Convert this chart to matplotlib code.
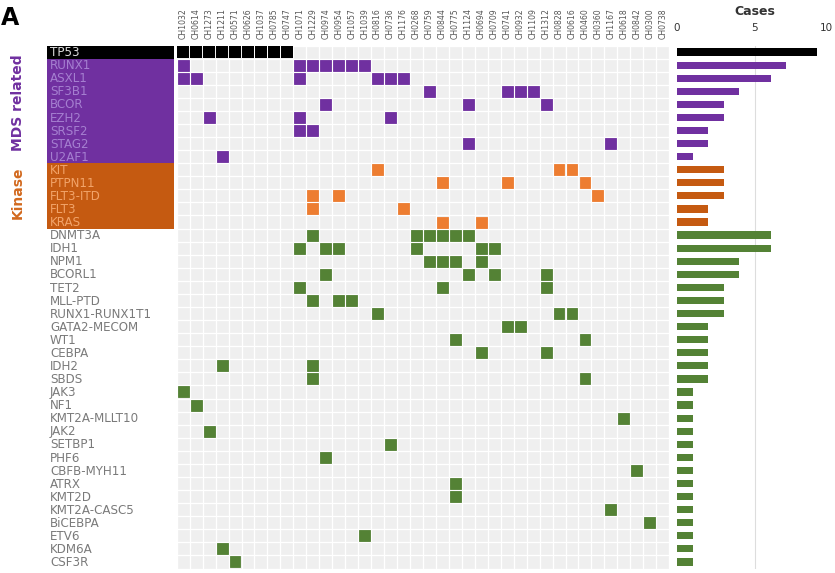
import matplotlib
matplotlib.use("Agg")
import matplotlib.pyplot as plt
from matplotlib.patches import Rectangle

# ---- data -------------------------------------------------------------
samples = ["CH1032", "CH0614", "CH1273", "CH1211", "CH0571", "CH0626", "CH1037",
           "CH0785", "CH0747", "CH1071", "CH1229", "CH0974", "CH0954", "CH1057",
           "CH1039", "CH0816", "CH0736", "CH1176", "CH0268", "CH0759", "CH0844",
           "CH0775", "CH1124", "CH0694", "CH0709", "CH0741", "CH0932", "CH1109",
           "CH1312", "CH0828", "CH0616", "CH0460", "CH0360", "CH1167", "CH0618",
           "CH0842", "CH0300", "CH0738"]

tp53_genes = ["TP53"]
mds_genes = ["RUNX1", "ASXL1", "SF3B1", "BCOR", "EZH2", "SRSF2", "STAG2", "U2AF1"]
kinase_genes = ["KIT", "PTPN11", "FLT3-ITD", "FLT3", "KRAS"]
other_genes = ["DNMT3A", "IDH1", "NPM1", "BCORL1", "TET2", "MLL-PTD",
               "RUNX1-RUNX1T1", "GATA2-MECOM", "WT1", "CEBPA", "IDH2", "SBDS",
               "JAK3", "NF1", "KMT2A-MLLT10", "JAK2", "SETBP1", "PHF6",
               "CBFB-MYH11", "ATRX", "KMT2D", "KMT2A-CASC5", "BiCEBPA", "ETV6",
               "KDM6A", "CSF3R"]

# mutated samples per gene
mutations = {
    "TP53": ["CH1032", "CH0614", "CH1273", "CH1211", "CH0571", "CH0626", "CH1037", "CH0785", "CH0747"],
    "RUNX1": ["CH1032", "CH1071", "CH1229", "CH0974", "CH0954", "CH1057", "CH1039"],
    "ASXL1": ["CH1032", "CH0614", "CH1071", "CH0816", "CH0736", "CH1176"],
    "SF3B1": ["CH0759", "CH0741", "CH0932", "CH1109"],
    "BCOR": ["CH0974", "CH1124", "CH1312"],
    "EZH2": ["CH1273", "CH1071", "CH0736"],
    "SRSF2": ["CH1071", "CH1229"],
    "STAG2": ["CH1124", "CH1167"],
    "U2AF1": ["CH1211"],
    "KIT": ["CH0816", "CH0828", "CH0616"],
    "PTPN11": ["CH0844", "CH0741", "CH0460"],
    "FLT3-ITD": ["CH1229", "CH0954", "CH0360"],
    "FLT3": ["CH1229", "CH1176"],
    "KRAS": ["CH0844", "CH0694"],
    "DNMT3A": ["CH1229", "CH0268", "CH0759", "CH0844", "CH0775", "CH1124"],
    "IDH1": ["CH1071", "CH0974", "CH0954", "CH0268", "CH0694", "CH0709"],
    "NPM1": ["CH0759", "CH0844", "CH0775", "CH0694"],
    "BCORL1": ["CH0974", "CH1124", "CH0709", "CH1312"],
    "TET2": ["CH1071", "CH0844", "CH1312"],
    "MLL-PTD": ["CH1229", "CH0954", "CH1057"],
    "RUNX1-RUNX1T1": ["CH0816", "CH0828", "CH0616"],
    "GATA2-MECOM": ["CH0741", "CH0932"],
    "WT1": ["CH0775", "CH0460"],
    "CEBPA": ["CH0694", "CH1312"],
    "IDH2": ["CH1211", "CH1229"],
    "SBDS": ["CH1229", "CH0460"],
    "JAK3": ["CH1032"],
    "NF1": ["CH0614"],
    "KMT2A-MLLT10": ["CH0618"],
    "JAK2": ["CH1273"],
    "SETBP1": ["CH0736"],
    "PHF6": ["CH0974"],
    "CBFB-MYH11": ["CH0842"],
    "ATRX": ["CH0775"],
    "KMT2D": ["CH0775"],
    "KMT2A-CASC5": ["CH1167"],
    "BiCEBPA": ["CH0300"],
    "ETV6": ["CH1039"],
    "KDM6A": ["CH1211"],
    "CSF3R": ["CH0571"],
}

# ---- styling ----------------------------------------------------------
groups = [(tp53_genes, "#000000", "#000000", "#000000", "#dcdcdc"),
          (mds_genes, "#7030A0", "#7030A0", "#7030A0", "#a57fd0"),
          (kinase_genes, "#ED7D31", "#C55A11", "#C55A11", "#f2a46a"),
          (other_genes, "#548235", "#548235", None, "#7a7a7a")]

genes, cell_col, bar_col, box_col, txt_col = [], [], [], [], []
for glist, cc, bc, boxc, tc in groups:
    for g in glist:
        genes.append(g)
        cell_col.append(cc)
        bar_col.append(bc)
        box_col.append(boxc)
        txt_col.append(tc)

n_rows = len(genes)
n_cols = len(samples)
counts = [len(mutations[g]) for g in genes]

W, H = 835, 573
fig = plt.figure(figsize=(W / 100, H / 100), dpi=100)
fig.patch.set_facecolor("white")

top_px, bot_px = 45.5, 568.5


def axes_px(x0, x1):
    return fig.add_axes([x0 / W, 1 - bot_px / H, (x1 - x0) / W, (bot_px - top_px) / H])


# ---- mutation grid ----------------------------------------------------
ax = axes_px(176.7, 669.2)
ax.set_xlim(0, n_cols)
ax.set_ylim(n_rows, 0)
ax.set_facecolor("#efefef")
for c in range(n_cols + 1):
    ax.axvline(c, color="white", lw=0.9, zorder=1)
for r in range(n_rows + 1):
    ax.axhline(r, color="white", lw=0.9, zorder=1)
col_index = {s: i for i, s in enumerate(samples)}
for r, g in enumerate(genes):
    for s in mutations[g]:
        c = col_index[s]
        if g == "TP53":
            ax.add_patch(Rectangle((c + 0.04, r + 0.04), 0.92, 0.92,
                                   facecolor="#000000", edgecolor="none", zorder=3))
        else:
            ax.add_patch(Rectangle((c + 0.08, r + 0.08), 0.84, 0.84,
                                   facecolor=cell_col[r], edgecolor=cell_col[r],
                                   lw=0.6, zorder=3))
ax.set_xticks([i + 0.5 for i in range(n_cols)])
ax.set_xticklabels(samples, rotation=90, fontsize=5.6, color="#555555")
ax.xaxis.tick_top()
ax.tick_params(axis="x", length=0, pad=5)
ax.set_yticks([])
for sp in ax.spines.values():
    sp.set_visible(False)

# ---- gene labels ------------------------------------------------------
lab = axes_px(0, 174)
lab.set_xlim(0, 174)
lab.set_ylim(n_rows, 0)
lab.axis("off")
for r, g in enumerate(genes):
    if box_col[r] is not None:
        lab.add_patch(Rectangle((47, r), 127, 1, facecolor=box_col[r], edgecolor="none"))
    lab.text(50, r + 0.55, g, fontsize=8.6, color=txt_col[r], va="center", ha="left",
             fontfamily="DejaVu Sans")

n_mds = len(mds_genes)
n_kin = len(kinase_genes)
lab.text(18, 1 + n_mds / 2 - 0.6, "MDS related", rotation=90, fontsize=10,
         fontweight="bold", color="#7030A0", ha="center", va="center")
lab.text(18, 1 + n_mds + n_kin / 2 - 0.2, "Kinase", rotation=90, fontsize=10,
         fontweight="bold", color="#D2691E", ha="center", va="center")

fig.text(1 / W, 1 - 18 / H, "A", fontsize=17, fontweight="bold", color="black",
         ha="left", va="center")

# ---- case counts ------------------------------------------------------
bx = axes_px(677, 833)
bx.set_xlim(0, 10)
bx.set_ylim(n_rows - 0.5, -0.5)
bx.barh(range(n_rows), counts, height=0.55, color=bar_col, zorder=3)
bx.axvline(5, color="#dddddd", lw=0.8, zorder=1)
bx.set_xticks([0, 5, 10])
bx.xaxis.tick_top()
bx.tick_params(axis="x", length=0, pad=9, labelsize=7.5, labelcolor="#333333")
bx.get_xticklabels()[-1].set_horizontalalignment("right")
bx.set_yticks([])
for sp in bx.spines.values():
    sp.set_visible(False)
bx.set_title("Cases", fontsize=9, fontweight="bold", color="#333333", pad=22)

fig.savefig("out.png", dpi=100, facecolor="white")
